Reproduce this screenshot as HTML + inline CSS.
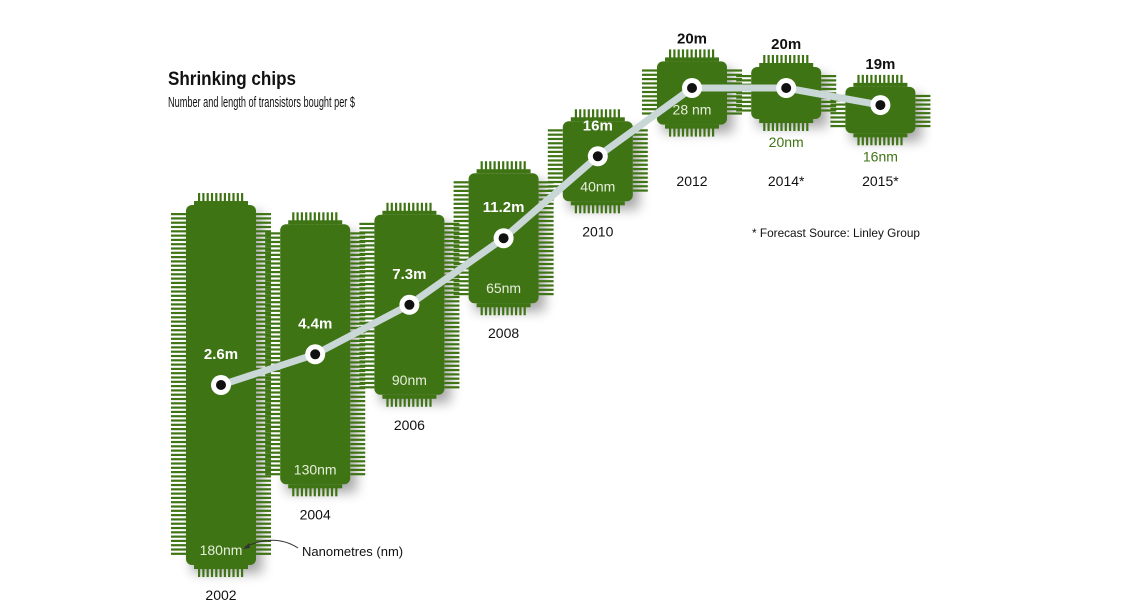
<!DOCTYPE html>
<html><head><meta charset="utf-8"><style>
html,body{margin:0;padding:0;background:#fff;width:1123px;height:612px;overflow:hidden}
svg{display:block}
text{font-family:"Liberation Sans Narrow","Liberation Sans",sans-serif}
</style></head><body>
<svg id="chart" width="1123" height="612" viewBox="0 0 1123 612" xmlns="http://www.w3.org/2000/svg">
<defs>
<filter id="sh" x="-50%" y="-50%" width="200%" height="200%"><feGaussianBlur stdDeviation="6"/></filter>
</defs>
<text x="168" y="85" font-size="19" font-weight="bold" fill="#111" textLength="128" lengthAdjust="spacingAndGlyphs">Shrinking chips</text>
<text x="168" y="107" font-size="15" fill="#111" textLength="187" lengthAdjust="spacingAndGlyphs">Number and length of transistors bought per $</text>
<text x="752" y="237" font-size="12" fill="#111" textLength="168" lengthAdjust="spacingAndGlyphs">* Forecast    Source: Linley Group</text>
<g id="chips"></g>
<g id="line"></g>
<g id="labels"></g>
<path d="M298,548 Q275,533 245,547" fill="none" stroke="#333" stroke-width="1"/>
<path d="M243,549 l6,-6 l1,5 z" fill="#333"/>
<text x="302" y="556" font-size="13" fill="#111">Nanometres (nm)</text>
</svg>
<script>
const years = ["2002","2004","2006","2008","2010","2012","2014*","2015*"];
const transistors = [2.6, 4.4, 7.3, 11.2, 16, 20, 20, 19];
const nanometres = [180, 130, 90, 65, 40, 28, 20, 16];

const NS = "http://www.w3.org/2000/svg";
const xStart = 221, xStep = 94.2;
function xScale(i){ return xStart + i*xStep; }
function yScale(v){ return 429.4 - v*17.07; }
function chipH(nm){ return 2*nm + (nm < 40 ? (40-nm)*0.6 : 0); }
function mk(tag, attrs, parent){ const e=document.createElementNS(NS,tag); for(const k in attrs) e.setAttribute(k,attrs[k]); parent.appendChild(e); return e; }

const chipsG = document.getElementById("chips");
const lineG = document.getElementById("line");
const labG = document.getElementById("labels");
const green = "#3f7414";
const pts = [];

years.forEach((yr,i)=>{
  const cx = xScale(i), cy = yScale(transistors[i]);
  const h = chipH(nanometres[i]);
  const w = 70;
  const top = cy - h/2 + (h < 90 ? 5 : 0);
  const left = cx - w/2;
  pts.push([cx, cy]);
  const g = mk("g", {}, chipsG);
  
  
  mk("rect",{x:left+6,y:top+8,width:w,height:h,fill:"#000",opacity:0.35,filter:"url(#sh)"},g);
  // top/bottom pins
  for(let px = left+12; px <= left+w-14; px+=4.3){
    mk("rect",{x:px,y:top-12,width:2.2,height:12,fill:green},g);
    mk("rect",{x:px,y:top+h,width:2.2,height:12,fill:green},g);
  }
  mk("rect",{x:left+8,y:top-4,width:w-16,height:4,fill:green},g);
  mk("rect",{x:left+8,y:top+h,width:w-16,height:4,fill:green},g);
  // side pins
  for(let py = top+8; py <= top+h-8; py+=4.3){
    mk("rect",{x:left-15,y:py,width:15,height:2.2,fill:green},g);
    mk("rect",{x:left+w,y:py,width:15,height:2.2,fill:green},g);
  }
  mk("rect",{x:left,y:top,width:w,height:h,rx:6,fill:green},g);
});

// line
const poly = mk("polyline",{points:pts.map(p=>p.join(",")).join(" "),fill:"none",stroke:"#c9d7d7","stroke-width":7,"stroke-linejoin":"round"},lineG);



years.forEach((yr,i)=>{
  const [cx,cy] = pts[i];
  const h = chipH(nanometres[i]);
  const top = cy - h/2 + (h < 90 ? 5 : 0);
  const bottom = top + h;
  const c1 = mk("circle",{cx:cx,cy:cy,r:10,fill:"#fff"},labG);
  
  
  mk("circle",{cx:cx,cy:cy,r:5,fill:"#111"},labG);
  const small = h < 70;
  const v = mk("text",{x:cx,y: small ? top-18 : cy-26,"text-anchor":"middle","font-size":15,"font-weight":"bold",fill: small ? "#111" : "#fff"},labG);
  v.textContent = transistors[i] + "m";
  
  
  const inside = h > 60;
  const n = mk("text",{x:cx,y: inside ? bottom-10 : bottom+28,"text-anchor":"middle","font-size":14,fill: inside ? "#e6eedc" : green},labG);
  n.textContent = nanometres[i] + (i===5 ? " nm" : "nm");
  
  
  const yl = i >= 5 ? 186 : bottom + 35;
  const t = mk("text",{x:cx,y:yl,"text-anchor":"middle","font-size":14,fill:"#111"},labG);
  t.textContent = yr;
  
  
});
</script>
</body></html>
